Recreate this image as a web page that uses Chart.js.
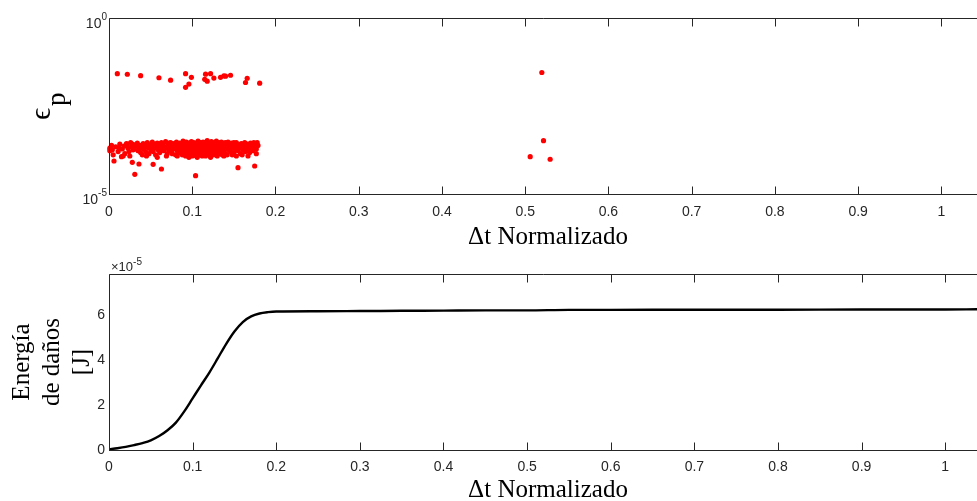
<!DOCTYPE html>
<html>
<head>
<meta charset="utf-8">
<script src="https://cdn.jsdelivr.net/npm/chart.js@4.4.1/dist/chart.umd.min.js"></script>
<style>
  html, body { margin: 0; padding: 0; background: #ffffff; }
  #wrap { position: relative; width: 977px; height: 501px; overflow: hidden; }
  #wrap canvas { position: absolute; left: 0; }
  #strainChart { top: 0; }
  #energyChart { top: 250px; }
</style>
</head>
<body>
<div id="wrap">
  <canvas id="strainChart" width="977" height="250"></canvas>
  <canvas id="energyChart" width="977" height="251"></canvas>
</div>
<script>
// ---- data ----------------------------------------------------------------
const xTickValues = [0, 0.1, 0.2, 0.3, 0.4, 0.5, 0.6, 0.7, 0.8, 0.9, 1];
const xLimits = [0, 1.038];

const strainTickValues = [1e-5, 1];
const strainLimits = [1e-5, 1];

const energyTickLabels = [0, 2, 4, 6];   // in units of 1e-5 J
const energyUnit = 1e-5;
const energyLimits = [0, 7.84e-5];

// plastic strain events: [normalised Δt, εp]
const strainUpperBand = [
  [0.010, 0.0262], [0.022, 0.0252], [0.038, 0.0230], [0.060, 0.0201], [0.074, 0.0171],
  [0.092, 0.0262], [0.099, 0.0207], [0.096, 0.0133], [0.092, 0.0107], [0.116, 0.0253],
  [0.122, 0.0262], [0.115, 0.0181], [0.118, 0.0160], [0.126, 0.0197], [0.134, 0.0207],
  [0.138, 0.0228], [0.140, 0.0222], [0.146, 0.0236], [0.166, 0.0194], [0.164, 0.0147],
  [0.181, 0.0141]
];

const strainMainBand = [
  [0.001, 2.0e-4], [0.003, 2.4e-4], [0.004, 1.8e-4], [0.008, 2.2e-4], [0.011, 1.6e-4],
  [0.013, 2.6e-4], [0.016, 1.9e-4], [0.018, 2.3e-4], [0.019, 1.4e-4],
  [0.021, 2.7e-4], [0.023, 2.0e-4], [0.024, 1.6e-4], [0.026, 2.9e-4], [0.027, 2.2e-4],
  [0.029, 1.8e-4], [0.030, 2.5e-4], [0.033, 2.1e-4], [0.034, 2.8e-4], [0.035, 1.7e-4],
  [0.037, 2.4e-4], [0.038, 1.5e-4], [0.039, 2.0e-4], [0.041, 2.7e-4], [0.042, 1.9e-4],
  [0.043, 2.3e-4], [0.044, 1.6e-4], [0.046, 2.9e-4], [0.047, 2.1e-4], [0.048, 1.4e-4],
  [0.049, 2.5e-4], [0.050, 1.8e-4],
  [0.051, 2.3e-4], [0.052, 3.0e-4], [0.053, 1.6e-4], [0.054, 2.0e-4], [0.055, 2.6e-4],
  [0.056, 1.3e-4], [0.057, 2.2e-4], [0.058, 2.8e-4], [0.059, 1.8e-4], [0.060, 2.4e-4],
  [0.061, 1.5e-4], [0.062, 2.1e-4], [0.063, 2.9e-4], [0.064, 1.9e-4], [0.065, 2.5e-4],
  [0.066, 1.7e-4], [0.067, 2.2e-4], [0.068, 3.1e-4], [0.069, 2.0e-4], [0.070, 1.4e-4],
  [0.071, 2.6e-4], [0.072, 1.8e-4], [0.073, 2.3e-4], [0.074, 2.9e-4], [0.075, 1.6e-4],
  [0.076, 2.1e-4], [0.077, 2.7e-4], [0.078, 1.9e-4], [0.079, 2.4e-4], [0.080, 1.3e-4],
  [0.081, 2.2e-4], [0.081, 3.0e-4], [0.082, 1.7e-4], [0.083, 2.5e-4], [0.083, 2.0e-4],
  [0.084, 1.5e-4], [0.085, 2.8e-4], [0.085, 2.3e-4], [0.086, 1.9e-4], [0.087, 2.6e-4],
  [0.087, 1.6e-4], [0.088, 2.1e-4], [0.089, 3.2e-4], [0.089, 2.4e-4], [0.090, 1.8e-4],
  [0.091, 2.7e-4], [0.091, 1.4e-4], [0.092, 2.2e-4], [0.093, 3.0e-4], [0.093, 1.9e-4],
  [0.094, 2.5e-4], [0.095, 1.6e-4], [0.095, 2.1e-4], [0.096, 2.8e-4], [0.097, 2.3e-4],
  [0.097, 1.3e-4], [0.098, 1.8e-4], [0.099, 2.6e-4], [0.099, 3.1e-4], [0.100, 2.0e-4],
  [0.101, 1.5e-4], [0.101, 2.4e-4], [0.102, 2.9e-4], [0.103, 1.7e-4], [0.103, 2.2e-4],
  [0.104, 2.7e-4], [0.105, 1.9e-4], [0.105, 1.2e-4], [0.106, 2.5e-4], [0.107, 3.2e-4],
  [0.107, 2.1e-4], [0.108, 1.6e-4], [0.109, 2.3e-4], [0.109, 2.8e-4], [0.110, 1.8e-4],
  [0.111, 2.6e-4], [0.111, 1.4e-4], [0.112, 2.0e-4], [0.113, 3.0e-4], [0.113, 2.4e-4],
  [0.114, 1.7e-4], [0.115, 2.2e-4], [0.115, 2.9e-4], [0.116, 1.5e-4], [0.117, 2.5e-4],
  [0.117, 1.9e-4], [0.118, 3.3e-4], [0.119, 2.1e-4], [0.119, 1.6e-4], [0.120, 2.7e-4],
  [0.121, 2.3e-4], [0.121, 1.3e-4], [0.122, 1.8e-4], [0.123, 2.8e-4], [0.123, 3.1e-4],
  [0.124, 2.0e-4], [0.125, 1.6e-4], [0.125, 2.4e-4], [0.126, 2.9e-4], [0.127, 1.9e-4],
  [0.127, 2.2e-4], [0.128, 1.4e-4], [0.129, 2.6e-4], [0.129, 3.2e-4], [0.130, 2.1e-4],
  [0.131, 1.7e-4], [0.131, 2.5e-4], [0.132, 2.9e-4], [0.133, 1.9e-4], [0.133, 2.3e-4],
  [0.134, 1.5e-4], [0.135, 2.7e-4], [0.135, 3.0e-4], [0.136, 2.0e-4], [0.137, 1.7e-4],
  [0.137, 2.4e-4], [0.138, 2.8e-4], [0.139, 1.8e-4], [0.139, 2.2e-4], [0.140, 1.4e-4],
  [0.086, 2.4e-4], [0.088, 2.7e-4], [0.090, 2.2e-4], [0.092, 1.7e-4], [0.094, 2.0e-4],
  [0.096, 2.3e-4], [0.098, 2.5e-4], [0.100, 2.7e-4], [0.102, 1.9e-4], [0.104, 2.2e-4],
  [0.106, 1.8e-4], [0.108, 2.6e-4], [0.110, 2.2e-4], [0.112, 2.7e-4], [0.114, 2.0e-4],
  [0.116, 2.3e-4], [0.118, 1.8e-4], [0.120, 2.1e-4], [0.122, 2.5e-4], [0.124, 1.8e-4],
  [0.126, 2.1e-4], [0.128, 2.4e-4], [0.130, 2.7e-4],
  [0.141, 2.6e-4], [0.142, 2.1e-4], [0.143, 3.0e-4], [0.144, 1.8e-4], [0.145, 2.4e-4],
  [0.146, 1.6e-4], [0.147, 2.8e-4], [0.148, 2.0e-4], [0.149, 2.3e-4], [0.150, 1.5e-4],
  [0.151, 2.6e-4], [0.152, 1.9e-4], [0.153, 2.9e-4], [0.154, 2.2e-4], [0.155, 1.7e-4],
  [0.156, 2.5e-4], [0.157, 2.0e-4], [0.158, 1.4e-4], [0.159, 2.7e-4], [0.160, 2.2e-4],
  [0.161, 1.8e-4], [0.162, 2.4e-4], [0.163, 2.9e-4], [0.164, 1.6e-4], [0.165, 2.1e-4],
  [0.166, 2.6e-4], [0.167, 1.9e-4], [0.168, 2.3e-4], [0.169, 1.5e-4], [0.170, 2.8e-4],
  [0.171, 2.0e-4], [0.172, 2.5e-4], [0.173, 1.7e-4], [0.175, 2.3e-4], [0.176, 2.6e-4],
  [0.177, 1.9e-4], [0.179, 2.4e-4],
  [0.005, 1.3e-4], [0.012, 2.0e-4], [0.017, 1.2e-4], [0.022, 2.3e-4], [0.025, 1.2e-4],
  [0.028, 2.6e-4], [0.032, 1.9e-4], [0.036, 2.2e-4], [0.040, 1.3e-4], [0.045, 2.4e-4],
  [0.045, 1.2e-4], [0.052, 1.9e-4], [0.056, 2.4e-4], [0.058, 1.1e-4], [0.062, 2.6e-4],
  [0.066, 2.0e-4], [0.069, 1.2e-4], [0.072, 2.8e-4], [0.076, 1.4e-4], [0.078, 2.2e-4],
  [0.082, 1.2e-4], [0.084, 2.6e-4], [0.088, 1.3e-4], [0.090, 2.9e-4], [0.092, 1.2e-4],
  [0.094, 1.5e-4], [0.096, 1.1e-4], [0.098, 1.4e-4], [0.100, 1.2e-4], [0.102, 1.3e-4],
  [0.104, 1.5e-4], [0.106, 1.1e-4], [0.108, 1.3e-4], [0.110, 2.9e-4], [0.112, 1.2e-4],
  [0.114, 2.6e-4], [0.116, 1.2e-4], [0.118, 2.6e-4], [0.120, 1.4e-4], [0.122, 1.1e-4],
  [0.124, 2.6e-4], [0.126, 1.3e-4], [0.128, 2.9e-4], [0.130, 1.2e-4], [0.132, 1.4e-4],
  [0.134, 2.6e-4], [0.136, 1.3e-4], [0.138, 1.2e-4], [0.140, 2.9e-4], [0.142, 1.3e-4],
  [0.145, 2.0e-4], [0.148, 1.3e-4], [0.150, 2.9e-4], [0.153, 1.2e-4], [0.156, 2.1e-4],
  [0.160, 1.3e-4], [0.163, 2.1e-4], [0.167, 1.2e-4], [0.170, 2.3e-4], [0.174, 2.9e-4],
  [0.177, 1.4e-4], [0.178, 2.9e-4]
];

const strainLowOutliers = [
  [0.001, 1.70e-4], [0.006, 8.65e-5], [0.015, 1.15e-4], [0.028, 7.96e-5], [0.031, 3.63e-5],
  [0.036, 7.11e-5], [0.053, 6.98e-5], [0.063, 5.13e-5], [0.104, 3.31e-5], [0.155, 5.59e-5],
  [0.175, 6.24e-5]
];

const strainLateEvents = [
  [0.520, 0.0283], [0.522, 3.27e-4], [0.506, 1.15e-4], [0.530, 9.7e-5]
];

// cumulative damage energy [J] against normalised Δt
const energyX = [0, 0.01, 0.02, 0.03, 0.04, 0.05, 0.06, 0.07, 0.08, 0.09,
                 0.10, 0.11, 0.12, 0.13, 0.14, 0.15, 0.16, 0.17, 0.18, 0.19,
                 0.20, 0.25, 0.30, 0.35, 0.40, 0.45, 0.50, 0.55, 0.60, 0.70,
                 0.80, 0.90, 1.00, 1.038];
const energyY = [0.03e-5, 0.08e-5, 0.14e-5, 0.22e-5, 0.31e-5, 0.43e-5, 0.62e-5, 0.88e-5, 1.22e-5, 1.72e-5,
                 2.30e-5, 2.88e-5, 3.45e-5, 4.08e-5, 4.72e-5, 5.28e-5, 5.70e-5, 5.95e-5, 6.08e-5, 6.14e-5,
                 6.17e-5, 6.18e-5, 6.19e-5, 6.20e-5, 6.21e-5, 6.22e-5, 6.22e-5, 6.24e-5, 6.24e-5, 6.25e-5,
                 6.25e-5, 6.26e-5, 6.26e-5, 6.27e-5];

// ---- styling -------------------------------------------------------------
const AXIS_COLOR = '#262626';
const SANS = '"Liberation Sans", Arial, Helvetica, sans-serif';
const SERIF = '"Liberation Serif", "Times New Roman", "DejaVu Serif", serif';

// draws base with a raised exponent, right edge at xRight
function drawPower(ctx, base, exp, xRight, baseline, baseSize, expSize, rise) {
  ctx.textAlign = 'left';
  ctx.textBaseline = 'alphabetic';
  ctx.font = expSize + 'px ' + SANS;
  const we = ctx.measureText(exp).width;
  ctx.font = baseSize + 'px ' + SANS;
  const wb = ctx.measureText(base).width;
  ctx.fillText(base, xRight - we - wb, baseline);
  ctx.font = expSize + 'px ' + SANS;
  ctx.fillText(exp, xRight - we, baseline - rise);
}

// box-style axes with inward ticks and hand-placed labels
const axesFrame = {
  id: 'axesFrame',
  afterDatasetsDraw(chart, args, o) {
    const { ctx, chartArea: a } = chart;
    const xs = chart.scales.x, ys = chart.scales.y;
    const L = Math.round(a.left) + 0.5;
    const T = Math.round(a.top) + 0.5;
    const B = Math.round(a.bottom) + 0.5;
    const R = chart.width;
    ctx.save();
    ctx.strokeStyle = AXIS_COLOR;
    ctx.lineWidth = 1;
    ctx.beginPath();
    ctx.moveTo(L, T); ctx.lineTo(R, T);
    ctx.moveTo(L, T); ctx.lineTo(L, B);
    ctx.moveTo(L - 0.5, B); ctx.lineTo(R, B);
    xTickValues.forEach(v => {
      const px = Math.round(xs.getPixelForValue(v)) + 0.5;
      ctx.moveTo(px, B); ctx.lineTo(px, B - 8);
      ctx.moveTo(px, T); ctx.lineTo(px, T + 8);
    });
    ctx.stroke();

    ctx.fillStyle = AXIS_COLOR;
    ctx.font = '14px ' + SANS;
    ctx.textAlign = 'center';
    ctx.textBaseline = 'middle';
    xTickValues.forEach(v => {
      ctx.fillText(String(v), xs.getPixelForValue(v), a.bottom + o.xLabelGap);
    });

    if (o.logY) {
      strainTickValues.forEach(v => {
        const py = ys.getPixelForValue(v);
        const e = Math.round(Math.log10(v));
        drawPower(ctx, '10', String(e), a.left - 2, py + 9.5, 14, 10, 8);
      });
    } else {
      ctx.font = '14px ' + SANS;
      ctx.textAlign = 'right';
      ctx.textBaseline = 'middle';
      energyTickLabels.forEach(t => {
        ctx.fillText(String(t), a.left - 4, ys.getPixelForValue(t * energyUnit));
      });
      // exponent multiplier above the axis
      ctx.textAlign = 'left';
      ctx.textBaseline = 'alphabetic';
      ctx.font = '13px ' + SANS;
      const mult = '\u00d710';
      ctx.fillText(mult, a.left + 2, a.top - 3);
      const wm = ctx.measureText(mult).width;
      ctx.font = '10px ' + SANS;
      ctx.fillText('-5', a.left + 2 + wm, a.top - 9);
    }

    // x axis title
    ctx.fillStyle = '#000000';
    ctx.font = '25px ' + SERIF;
    ctx.textAlign = 'center';
    ctx.textBaseline = 'middle';
    ctx.fillText('\u0394t Normalizado', o.xTitleX, o.xTitleY);

    // y axis title
    const cy = (a.top + a.bottom) / 2;
    ctx.save();
    ctx.translate(0, cy);
    ctx.rotate(-Math.PI / 2);
    ctx.textBaseline = 'alphabetic';
    if (o.logY) {
      ctx.textAlign = 'left';
      ctx.font = '30px ' + SERIF;
      ctx.fillText('\u03f5', -14, 50);
      ctx.font = '27px ' + SERIF;
      ctx.fillText('p', 0, 65);
    } else {
      ctx.textAlign = 'center';
      ctx.font = '25px ' + SERIF;
      ['Energ\u00eda', 'de da\u00f1os', '[J]'].forEach((line, i) => {
        ctx.fillText(line, 0, 29 + i * 30);
      });
    }
    ctx.restore();
    ctx.restore();
  }
};

const baseScaleX = {
  type: 'linear',
  min: xLimits[0],
  max: xLimits[1],
  grid: { display: false },
  border: { display: false },
  ticks: { display: false }
};

// ---- strain events -------------------------------------------------------
const toXY = arr => arr.map(([x, y]) => ({ x, y }));

new Chart(document.getElementById('strainChart'), {
  type: 'scatter',
  data: {
    datasets: [{
      data: toXY([...strainMainBand, ...strainLowOutliers, ...strainUpperBand, ...strainLateEvents]),
      pointRadius: 2.6,
      pointBackgroundColor: '#ff0000',
      pointBorderWidth: 0,
      clip: false
    }]
  },
  options: {
    responsive: false,
    animation: false,
    devicePixelRatio: 1,
    layout: { padding: { top: 18, left: 0, right: 0, bottom: 0 } },
    plugins: {
      legend: { display: false },
      tooltip: { enabled: false },
      axesFrame: { logY: true, xLabelGap: 18, xTitleX: 548, xTitleY: 237 }
    },
    scales: {
      x: Object.assign({}, baseScaleX, { afterFit: s => { s.height = 56; } }),
      y: {
        type: 'logarithmic',
        min: strainLimits[0],
        max: strainLimits[1],
        grid: { display: false },
        border: { display: false },
        ticks: { display: false },
        afterFit: s => { s.width = 109; }
      }
    }
  },
  plugins: [axesFrame]
});

// ---- damage energy -------------------------------------------------------
new Chart(document.getElementById('energyChart'), {
  type: 'line',
  data: {
    datasets: [{
      data: energyX.map((x, i) => ({ x, y: energyY[i] })),
      borderColor: '#000000',
      borderWidth: 2.4,
      pointRadius: 0,
      fill: false,
      cubicInterpolationMode: 'monotone'
    }]
  },
  options: {
    responsive: false,
    animation: false,
    devicePixelRatio: 1,
    layout: { padding: { top: 24, left: 0, right: 0, bottom: 0 } },
    plugins: {
      legend: { display: false },
      tooltip: { enabled: false },
      axesFrame: { logY: false, xLabelGap: 17, xTitleX: 548, xTitleY: 240 }
    },
    scales: {
      x: Object.assign({}, baseScaleX, { afterFit: s => { s.height = 51; } }),
      y: {
        type: 'linear',
        min: energyLimits[0],
        max: energyLimits[1],
        grid: { display: false },
        border: { display: false },
        ticks: { display: false },
        afterFit: s => { s.width = 109; }
      }
    }
  },
  plugins: [axesFrame]
});
</script>
</body>
</html>
